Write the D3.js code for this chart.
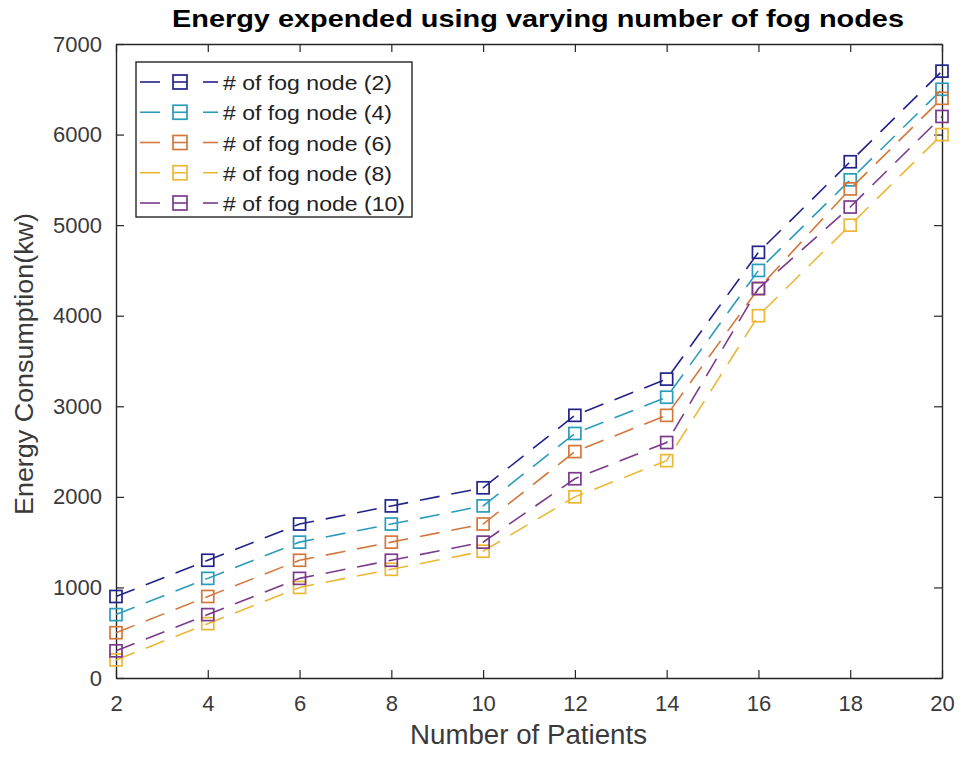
<!DOCTYPE html>
<html>
<head>
<meta charset="utf-8">
<script src="https://cdn.jsdelivr.net/npm/d3@7"></script>
<style>
  body { margin: 0; background: #fff; }
  svg { font-family: "Liberation Sans", Arial, sans-serif; }
</style>
</head>
<body>
<div id="chart"></div>
<script>
// data
const patients = [2, 4, 6, 8, 10, 12, 14, 16, 18, 20];
const fog2 = [900, 1300, 1700, 1900, 2100, 2900, 3300, 4700, 5700, 6700];
const fog4 = [700, 1100, 1500, 1700, 1900, 2700, 3100, 4500, 5500, 6500];
const fog6 = [500, 900, 1300, 1500, 1700, 2500, 2900, 4300, 5400, 6400];
const fog8 = [200, 600, 1000, 1200, 1400, 2000, 2400, 4000, 5000, 6000];
const fog10 = [300, 700, 1100, 1300, 1500, 2200, 2600, 4300, 5200, 6200];
const seriesNames = ["# of fog node (2)", "# of fog node (4)", "# of fog node (6)", "# of fog node (8)", "# of fog node (10)"];
const colors = ["#22238a", "#2b9cba", "#d4773c", "#ebb735", "#7b3a8d"];
const xTicks = [2, 4, 6, 8, 10, 12, 14, 16, 18, 20];
const yTicks = [0, 1000, 2000, 3000, 4000, 5000, 6000, 7000];

const series = [fog2, fog4, fog6, fog8, fog10].map((vals, i) => ({
  name: seriesNames[i], color: colors[i],
  points: vals.map((v, j) => ({x: patients[j], y: v}))
}));

const W = 962, H = 759;
const margin = {top: 44, right: 20, bottom: 81, left: 116};
const width = W - margin.left - margin.right,
      height = H - margin.top - margin.bottom;

const svg = d3.select("#chart").append("svg")
  .attr("width", W).attr("height", H);

const g = svg.append("g")
  .attr("transform", "translate(" + margin.left + "," + margin.top + ")");

const x = d3.scaleLinear().domain([2, 20]).range([0, width]);
const y = d3.scaleLinear().domain([0, 7000]).range([height, 0]);

// axes with inward ticks on all four sides, MATLAB style
const axColor = "#262626";
g.append("g").attr("transform", "translate(0," + height + ")")
  .call(d3.axisBottom(x).tickValues(xTicks).tickSizeInner(-8).tickSizeOuter(0)
    .tickPadding(17).tickFormat(d3.format("d")));
g.append("g")
  .call(d3.axisLeft(y).tickValues(yTicks).tickSizeInner(-8).tickSizeOuter(0)
    .tickPadding(14).tickFormat(d3.format("d")));
g.append("g")
  .call(d3.axisTop(x).tickValues(xTicks).tickSizeInner(-8).tickSizeOuter(0).tickFormat(""));
g.append("g").attr("transform", "translate(" + width + ",0)")
  .call(d3.axisRight(y).tickValues(yTicks).tickSizeInner(-8).tickSizeOuter(0).tickFormat(""));

g.selectAll(".domain").attr("stroke", axColor).attr("stroke-width", 1.4);
g.selectAll(".tick line").attr("stroke", axColor).attr("stroke-width", 1.2);
g.selectAll(".tick text").attr("fill", "#3a3a3a")
  .attr("font-family", "Liberation Sans, Arial, sans-serif")
  .attr("font-size", 22);

// dashed lines with square markers
const line = d3.line().x(d => x(d.x)).y(d => y(d.y));
const sg = g.selectAll(".series").data(series).enter().append("g");
sg.append("path")
  .attr("d", d => line(d.points))
  .attr("fill", "none")
  .attr("stroke", d => d.color)
  .attr("stroke-width", 1.6)
  .attr("stroke-dasharray", "20,12");

const ms = 12;
sg.selectAll("rect").data(d => d.points.map(p => ({p, color: d.color}))).enter()
  .append("rect")
  .attr("x", d => x(d.p.x) - ms / 2)
  .attr("y", d => y(d.p.y) - ms / 2)
  .attr("width", ms).attr("height", ms)
  .attr("fill", "none")
  .attr("stroke", d => d.color)
  .attr("stroke-width", 1.7);

// title and labels (the source figure is a bit stretched sideways, so fix widths)
svg.append("text")
  .attr("x", 172).attr("y", 27)
  .attr("font-size", 24).attr("font-weight", "bold")
  .attr("textLength", 732).attr("lengthAdjust", "spacingAndGlyphs")
  .attr("fill", "#000")
  .text("Energy expended using varying number of fog nodes");

svg.append("text")
  .attr("x", 410).attr("y", 744)
  .attr("font-size", 27).attr("fill", "#3a3a3a")
  .attr("textLength", 237).attr("lengthAdjust", "spacingAndGlyphs")
  .text("Number of Patients");

svg.append("text")
  .attr("transform", "translate(33,515) rotate(-90)")
  .attr("font-size", 26).attr("fill", "#3a3a3a")
  .attr("textLength", 302).attr("lengthAdjust", "spacingAndGlyphs")
  .text("Energy Consumption(kw)");

// legend
const lg = svg.append("g").attr("transform", "translate(136,62)");
lg.append("rect").attr("width", 276).attr("height", 155)
  .attr("fill", "#fff").attr("stroke", axColor).attr("stroke-width", 1.4);
const items = lg.selectAll(".item").data(series).enter().append("g")
  .attr("transform", (d, i) => "translate(0," + (20 + i * 30.25) + ")");
[[4, 24], [37, 51], [67, 82]].forEach(seg => {
  items.append("line").attr("x1", seg[0]).attr("x2", seg[1])
    .attr("stroke", d => d.color).attr("stroke-width", 1.6);
});
items.append("rect").attr("x", 44 - 7).attr("y", -7)
  .attr("width", 14).attr("height", 14)
  .attr("fill", "none").attr("stroke", d => d.color).attr("stroke-width", 1.7);
items.append("text").attr("x", 87).attr("y", 8)
  .attr("font-size", 21).attr("fill", "#222")
  .attr("textLength", d => d.name.length > 17 ? 182 : 169)
  .attr("lengthAdjust", "spacingAndGlyphs")
  .text(d => d.name);
</script>
</body>
</html>
